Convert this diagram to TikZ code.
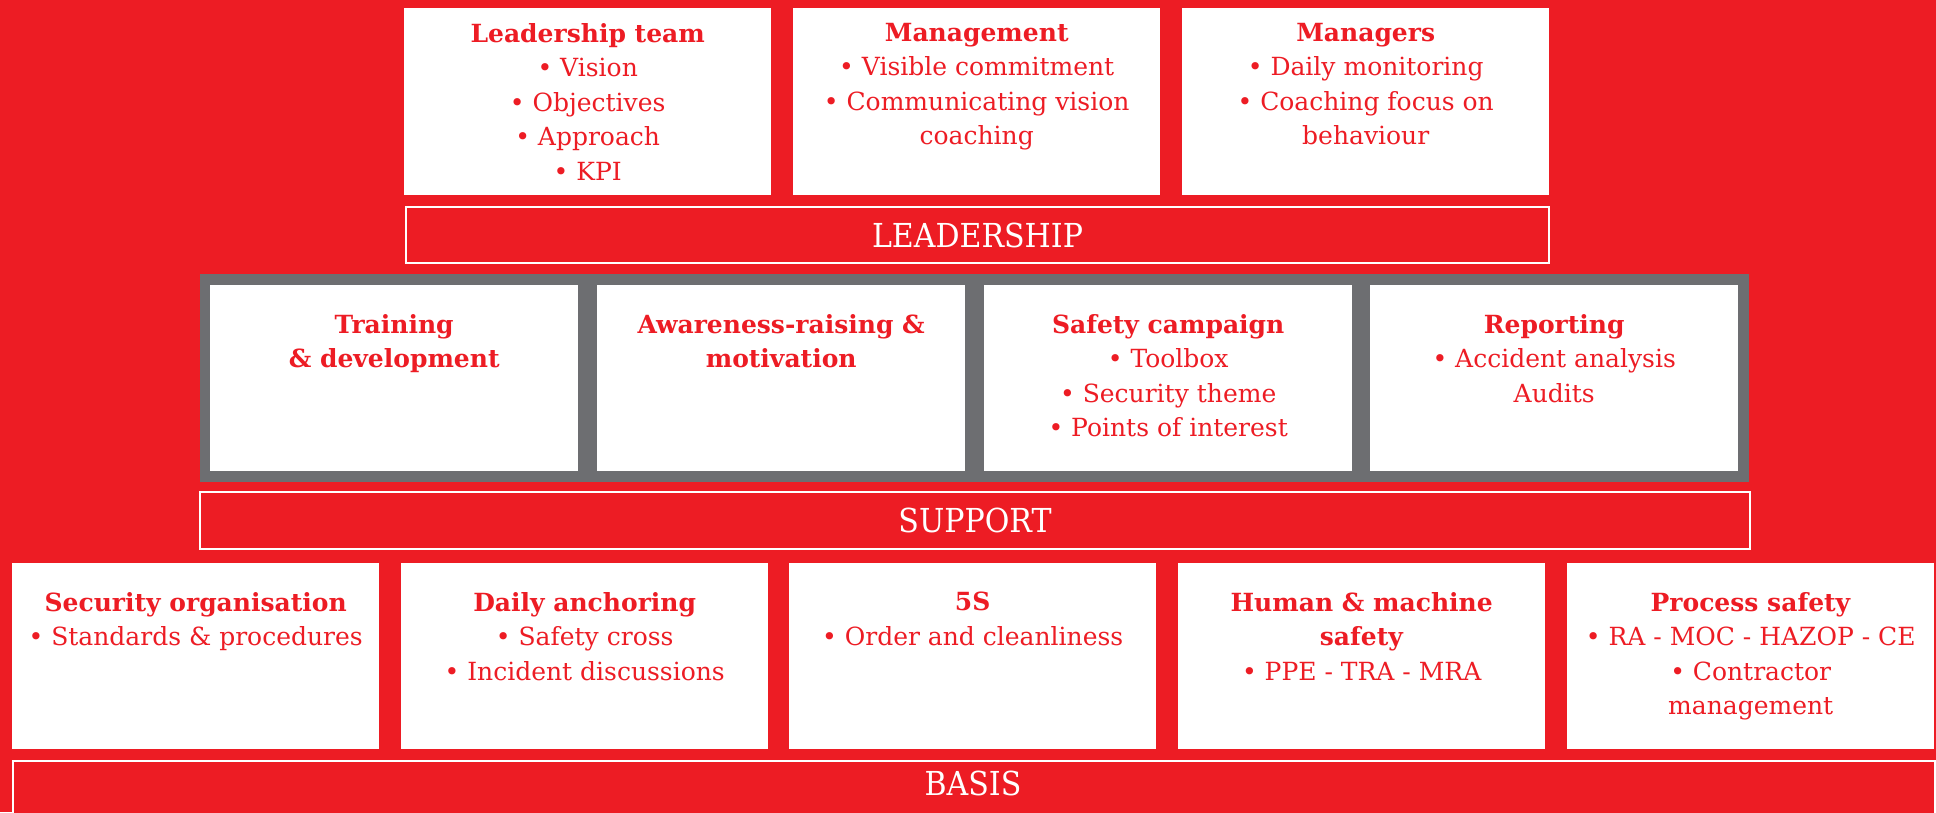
\documentclass[tikz,border=0pt]{standalone}
\usepackage{fontspec}
\setmainfont{DejaVu Serif}
\newfontfamily\barfont[FakeStretch=0.91]{DejaVu Serif}
\usetikzlibrary{positioning}
\definecolor{safred}{HTML}{ED1C24}
\definecolor{safgrey}{HTML}{6D6E71}

\begin{document}
\begin{tikzpicture}
[x=1pt, y=-1pt,
box/.style={fill=white, inner sep=0pt, anchor=north west, minimum width=367pt, minimum height=187pt},
sbox/.style={box, minimum width=368pt, minimum height=186pt},
bbox/.style={box, minimum height=186pt},
txt/.style={text=safred, align=center, inner sep=0pt, font=\fontsize{25}{34.5}\selectfont},
bar/.style={draw=white, line width=2pt, fill=safred, text=white, inner sep=0pt, anchor=north west, font=\barfont\fontsize{33}{40}\selectfont},
]
\useasboundingbox (0,0) rectangle (1936,812);
\fill[safred] (0,0) rectangle (1936,812);

\node[box] (lteam) at (404,8) {};
\node[box] (mgmt) at (793,8) {};
\node[box] (mgrs) at (1182,8) {};
\node[txt, below=15pt of lteam.north] {\textbf{Leadership team}\\• Vision\\• Objectives\\• Approach\\• KPI};
\node[txt, below=15pt of mgmt.north] {\textbf{Management}\\• Visible commitment\\• Communicating vision\\coaching};
\node[txt, below=15pt of mgrs.north] {\textbf{Managers}\\• Daily monitoring\\• Coaching focus on\\behaviour};
\node[bar, minimum width=1143pt, minimum height=56pt] (leadership) at (405,206) {LEADERSHIP};

\node[fill=safgrey, inner sep=0pt, anchor=north west, minimum width=1549pt, minimum height=208pt] (frame) at (200,274) {};
\node[sbox] (train) at (210,285) {};
\node[sbox] (aware) at (597,285) {};
\node[sbox] (campaign) at (984,285) {};
\node[sbox] (report) at (1370,285) {};
\node[txt, below=29pt of train.north] {\textbf{Training}\\\textbf{\& development}};
\node[txt, below=29pt of aware.north] {\textbf{Awareness-raising \&}\\\textbf{motivation}};
\node[txt, below=29pt of campaign.north] {\textbf{Safety campaign}\\• Toolbox\\• Security theme\\• Points of interest};
\node[txt, below=29pt of report.north] {\textbf{Reporting}\\• Accident analysis\\Audits};
\node[bar, minimum width=1550pt, minimum height=57pt] (support) at (199,491) {SUPPORT};

\node[bbox] (org) at (12,563) {};
\node[bbox] (anchor) at (401,563) {};
\node[bbox] (fives) at (789,563) {};
\node[bbox] (human) at (1178,563) {};
\node[bbox] (process) at (1567,563) {};
\node[txt, below=29pt of org.north] {\textbf{Security organisation}\\• Standards \& procedures};
\node[txt, below=29pt of anchor.north] {\textbf{Daily anchoring}\\• Safety cross\\• Incident discussions};
\node[txt, below=29pt of fives.north] {\textbf{5S}\\• Order and cleanliness};
\node[txt, below=29pt of human.north] {\textbf{Human \& machine}\\\textbf{safety}\\• PPE - TRA - MRA};
\node[txt, below=29pt of process.north] {\textbf{Process safety}\\• RA - MOC - HAZOP - CE\\• Contractor\\management};
\node[bar, minimum width=1922pt, minimum height=60pt] (basis) at (12,760) {};
\node[text=white, inner sep=0pt, font=\barfont\fontsize{33}{40}\selectfont] (basislabel) at (973,783.5) {BASIS};
\end{tikzpicture}
\end{document}
